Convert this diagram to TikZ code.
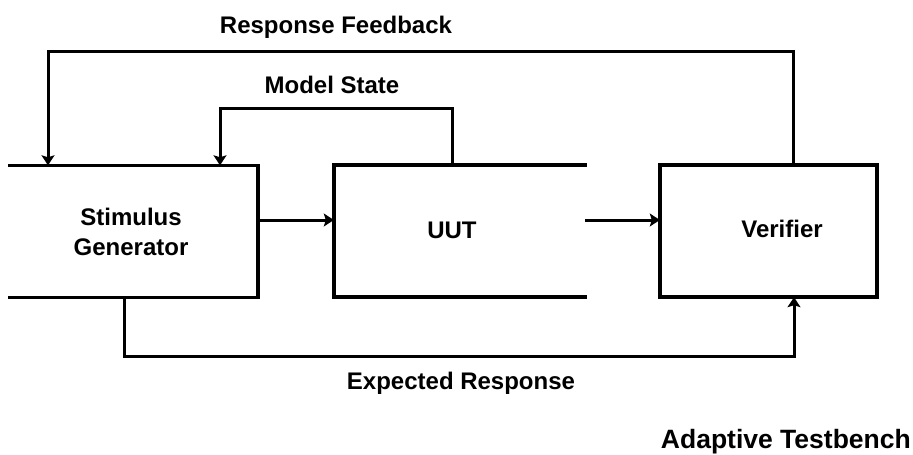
\documentclass[tikz,border=0pt]{standalone}
\usepackage{fontspec}
\setmainfont{Liberation Sans}
\usetikzlibrary{arrows.meta,positioning}

\tikzset{
    blk/.style={minimum width=#1, minimum height=132pt, inner sep=0pt},
    edge/.style={line width=3.5pt, line cap=rect, line join=miter},
    flow/.style={line width=3pt, -{Stealth[length=10pt,width=13pt,inset=2pt]}},
    txt/.style={font=\bfseries\fontsize{24}{30}\selectfont, align=center, inner sep=0pt}
}

\begin{document}
\begin{tikzpicture}[x=1pt,y=-1pt]
    \useasboundingbox (0,0) rectangle (913,455);
    % the three blocks
    \node[blk=248pt] (stim) at (134,231.5) {};
    \node[blk=251pt] (uut) at (459.5,231) {};
    \node[blk=217pt] (ver) at (768.5,231) {};
    \draw[edge] (stim.north west) -- (stim.north east) -- (stim.south east) -- (stim.south west);
    \draw[edge] (uut.north east) -- (uut.north west) -- (uut.south west) -- (uut.south east);
    \draw[edge] (ver.north west) rectangle (ver.south east);
    \node[txt] (stimtxt) at (131,232) {Stimulus\\Generator};
    \node[txt] (uuttxt) at (452,230) {UUT};
    \node[txt] (vertxt) at (782,229) {Verifier};

    % corner points of the loops
    \coordinate (fbR) at (793,51);
    \coordinate (fbL) at (48,51);
    \coordinate (msR) at (452,108);
    \coordinate (msL) at (220,108);
    \coordinate (erL) at (124,356);
    \coordinate (erR) at (794,356);

    % forward path
    \draw[flow] (stim.east |- 0,220) -- (uut.west |- 0,220);
    \draw[flow] (uut.east |- 0,220) -- (ver.west |- 0,220);
    % feedback loops
    \draw[flow] (ver.north -| fbR) -- (fbR) -- (fbL) -- (stim.north -| fbL);
    \draw[flow] (uut.north -| msR) -- (msR) -- (msL) -- (stim.north -| msL);
    \draw[flow] (stim.south -| erL) -- (erL) -- (erR) -- (ver.south -| erR);

    % labels
    \node[txt] (fblab) at (336,27) {Response Feedback};
    \node[txt] (mslab) at (332,85) {Model State};
    \node[txt] (erlab) at (461,383) {Expected Response};
    \node[txt, font=\bfseries\fontsize{26.5}{30}\selectfont, anchor=east] (title) at (911,442) {Adaptive Testbench};
\end{tikzpicture}
\end{document}
